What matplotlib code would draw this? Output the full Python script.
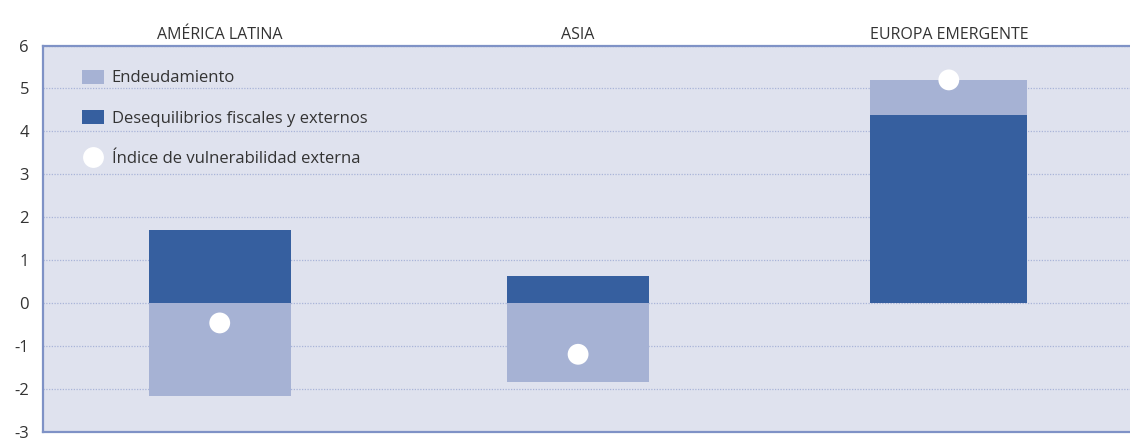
import matplotlib.pyplot as plt
from matplotlib.lines import Line2D
from matplotlib.patches import Patch

# Contribution of each component to the external vulnerability index
regions = ["AMÉRICA LATINA", "ASIA", "EUROPA EMERGENTE"]
desequilibrios = [1.70, 0.63, 4.38]
endeudamiento = [-2.16, -1.83, 0.82]
indice = [-0.46, -1.19, 5.20]

DARK = "#365f9f"
LIGHT = "#a6b2d4"
BG = "#dfe2ee"
SPINE = "#7f92c6"
TEXT = "#333333"

plt.rcParams["font.family"] = ["Open Sans", "DejaVu Sans"]
plt.rcParams["axes.unicode_minus"] = False

fig = plt.figure(figsize=(11.3, 4.38), dpi=100)
ax = fig.add_axes([0.038, 0.0137, 0.962, 0.8823])
ax.set_facecolor(BG)

# the three regional panels are not evenly spaced
x = [0, 0.983, 2]
widths = [0.39, 0.39, 0.43]

# Stack the debt component on top of positive values, below zero for negative ones
bottoms = [d if e > 0 else 0 for d, e in zip(desequilibrios, endeudamiento)]
ax.bar(x, desequilibrios, width=widths, color=DARK, zorder=2)
ax.bar(x, endeudamiento, bottom=bottoms, width=widths, color=LIGHT, zorder=2)
ax.scatter(x, indice, s=225, color="white", edgecolors="none", zorder=3)

ax.set_xlim(-0.485, 2.497)
ax.set_ylim(-3, 6)
ax.set_yticks(range(-3, 7))
ax.yaxis.grid(True, linestyle=(0, (1, 1.2)), color="#a9b4d8", linewidth=0.9)
ax.set_axisbelow(True)

ax.xaxis.tick_top()
ax.set_xticks(x, regions)
ax.tick_params(axis="x", length=0, pad=2, labelsize=11.5, labelcolor=TEXT)
ax.tick_params(axis="y", length=0, pad=10, labelsize=12, labelcolor=TEXT)

ax.spines["right"].set_visible(False)
for side in ("left", "top", "bottom"):
    ax.spines[side].set_color(SPINE)
    ax.spines[side].set_linewidth(1.6)

handles = [
    Patch(facecolor=LIGHT, edgecolor="none", label="Endeudamiento"),
    Patch(facecolor=DARK, edgecolor="none", label="Desequilibrios fiscales y externos"),
    Line2D([], [], marker="o", linestyle="none", markersize=15,
           markerfacecolor="white", markeredgecolor="none",
           label="Índice de vulnerabilidad externa"),
]
ax.legend(handles=handles, loc="upper left", bbox_to_anchor=(0.022, 0.976),
          frameon=False, fontsize=12, labelcolor=TEXT,
          handlelength=1.35, handleheight=0.9, handletextpad=0.45,
          labelspacing=1.42)

fig.savefig("out.png")
